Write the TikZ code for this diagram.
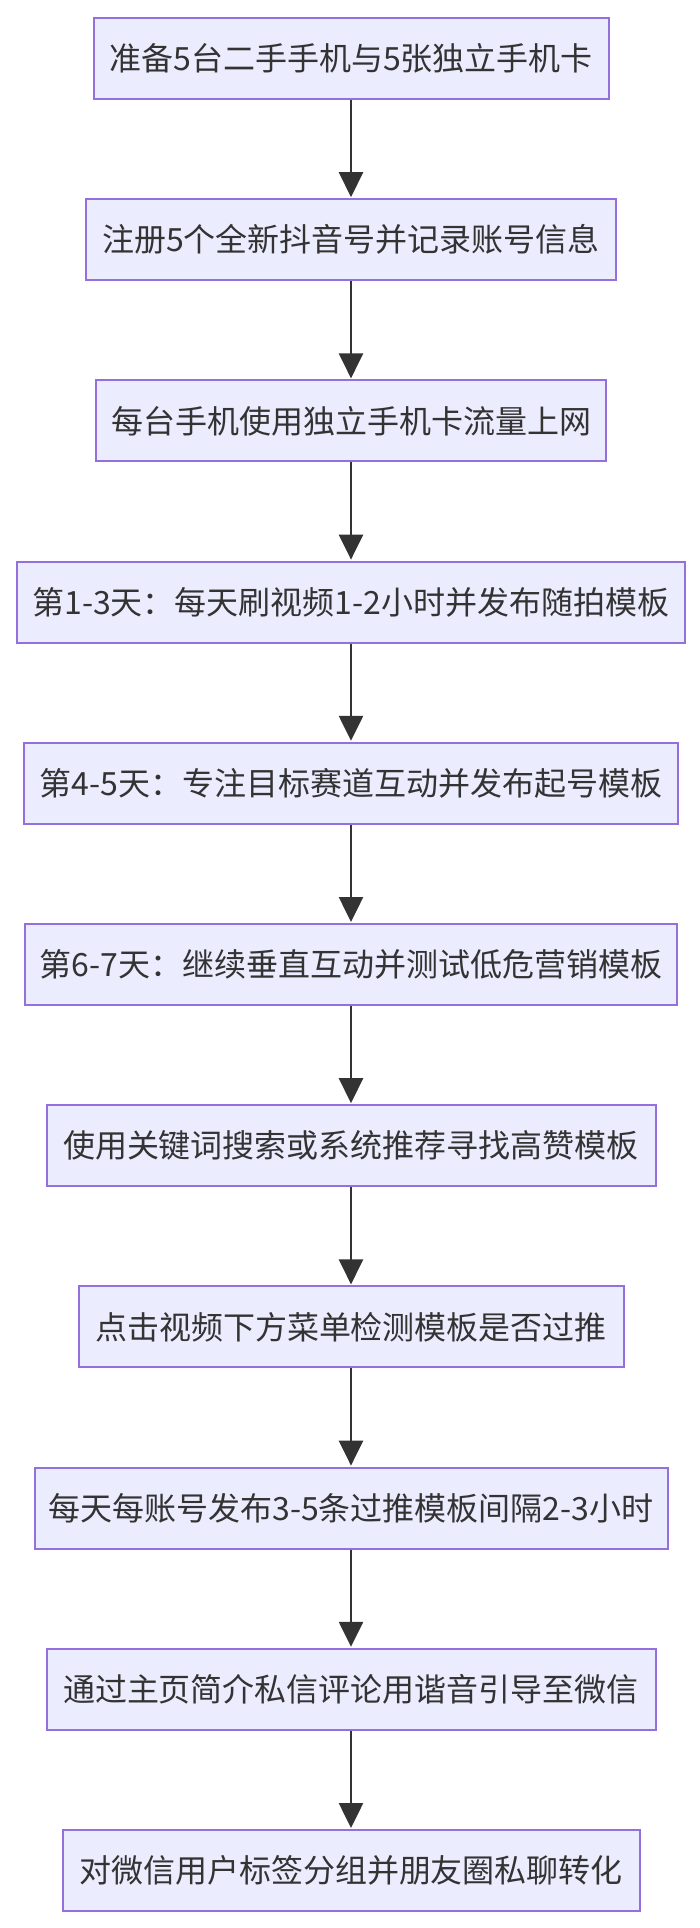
\documentclass[tikz,border=0pt]{standalone}
\usepackage{fontspec}
\newfontfamily\cjk{Noto Sans CJK SC}
\usetikzlibrary{arrows.meta}
\definecolor{boxfill}{HTML}{ECECFF}
\definecolor{boxdraw}{HTML}{9370DB}
\definecolor{ink}{HTML}{333333}
\tikzset{
  stepbox/.style={draw=boxdraw, fill=boxfill, line width=2pt, minimum height=81pt, inner xsep=0pt, inner ysep=0pt, text=ink, font=\cjk\fontsize{32}{32}\selectfont},
  flow/.style={draw=ink, line width=2.5pt, -{Triangle[length=25pt,width=24pt]}, shorten >=1pt}
}
\begin{document}
\begin{tikzpicture}[x=1pt,y=-1pt]
\useasboundingbox (0,0) rectangle (700,1928);
\node[stepbox, minimum width=515pt] (n1) at (351,58.5) {准备5台二手手机与5张独立手机卡};
\node[stepbox, minimum width=530pt] (n2) at (351,239.7) {注册5个全新抖音号并记录账号信息};
\node[stepbox, minimum width=510pt] (n3) at (351,420.9) {每台手机使用独立手机卡流量上网};
\node[stepbox, minimum width=668pt] (n4) at (351,602.1) {第1-3天：每天刷视频1-2小时并发布随拍模板};
\node[stepbox, minimum width=654pt] (n5) at (351,783.3) {第4-5天：专注目标赛道互动并发布起号模板};
\node[stepbox, minimum width=652pt] (n6) at (351,964.5) {第6-7天：继续垂直互动并测试低危营销模板};
\node[stepbox, minimum width=609pt] (n7) at (351,1145.7) {使用关键词搜索或系统推荐寻找高赞模板};
\node[stepbox, minimum width=545pt] (n8) at (351,1326.9) {点击视频下方菜单检测模板是否过推};
\node[stepbox, minimum width=633pt] (n9) at (351,1508.1) {每天每账号发布3-5条过推模板间隔2-3小时};
\node[stepbox, minimum width=609pt] (n10) at (351,1689.3) {通过主页简介私信评论用谐音引导至微信};
\node[stepbox, minimum width=577pt] (n11) at (351,1870.5) {对微信用户标签分组并朋友圈私聊转化};
\foreach \a/\b in {n1/n2,n2/n3,n3/n4,n4/n5,n5/n6,n6/n7,n7/n8,n8/n9,n9/n10,n10/n11}
  \draw[flow] (\a) -- (\b);
\end{tikzpicture}
\end{document}
